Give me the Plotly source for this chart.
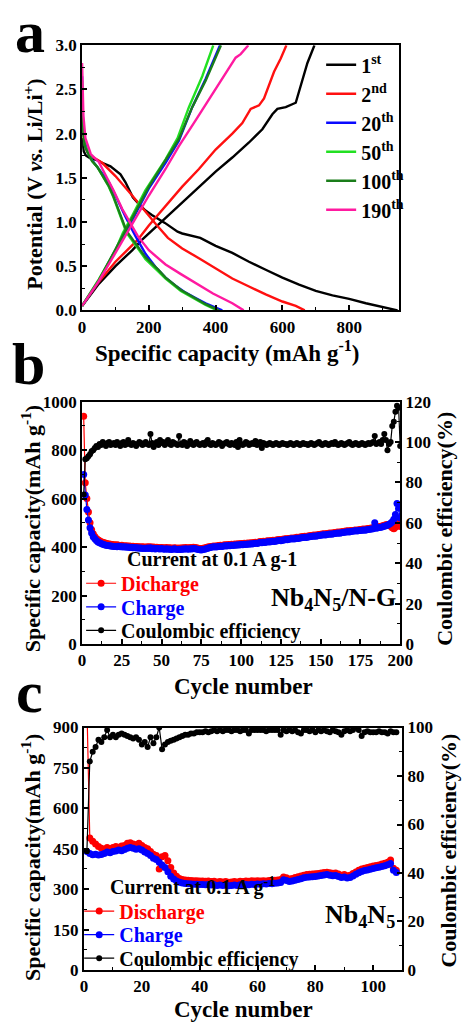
import plotly.graph_objects as go

W, H = 472, 1032
FONT = "Liberation Serif"

# ---------------- Panel a : charge/discharge profiles ----------------
cycle_labels = ["1<sup>st</sup>", "2<sup>nd</sup>", "20<sup>th</sup>", "50<sup>th</sup>", "100<sup>th</sup>", "190<sup>th</sup>"]
cycle_colors = ["#000000", "#ff1010", "#0a0aff", "#22e022", "#1a7d1a", "#ff1aa0"]

dis1_cap = [0, 5, 12, 25, 45, 60, 85, 103, 115, 130, 152, 171, 190, 209, 248, 286, 300, 354, 400, 450, 500, 550, 600, 650, 700, 750, 800, 850, 900, 945]
dis1_v = [1.95, 1.8, 1.75, 1.72, 1.7, 1.67, 1.63, 1.58, 1.54, 1.45, 1.28, 1.2, 1.13, 1.08, 0.99, 0.89, 0.87, 0.82, 0.73, 0.65, 0.55, 0.46, 0.37, 0.29, 0.22, 0.17, 0.13, 0.08, 0.04, 0.0]
chg1_cap = [0, 20, 50, 100, 150, 180, 200, 250, 300, 350, 400, 450, 500, 540, 570, 585, 610, 640, 655, 675, 696]
chg1_v = [0.05, 0.15, 0.3, 0.5, 0.68, 0.8, 0.87, 1.04, 1.22, 1.4, 1.57, 1.73, 1.9, 2.05, 2.22, 2.28, 2.3, 2.35, 2.55, 2.8, 3.0]

dis2_cap = [0, 5, 15, 30, 60, 74, 100, 150, 190, 220, 257, 300, 350, 400, 450, 500, 550, 600, 640, 667]
dis2_v = [2.3, 1.95, 1.8, 1.74, 1.67, 1.62, 1.52, 1.3, 1.11, 0.98, 0.82, 0.7, 0.59, 0.47, 0.36, 0.27, 0.18, 0.1, 0.05, 0.0]
chg2_cap = [0, 50, 100, 167, 200, 250, 300, 350, 400, 450, 480, 505, 530, 545, 575, 595, 612]
chg2_v = [0.05, 0.32, 0.55, 0.8, 0.96, 1.18, 1.4, 1.6, 1.82, 2.0, 2.12, 2.28, 2.32, 2.4, 2.7, 2.85, 3.0]

dis20_cap = [0, 3, 8, 16, 30, 46, 80, 100, 130, 160, 190, 220, 250, 280, 310, 340, 370, 400, 420]
dis20_v = [2.65, 2.1, 1.9, 1.8, 1.7, 1.62, 1.45, 1.3, 1.06, 0.84, 0.64, 0.49, 0.37, 0.28, 0.2, 0.14, 0.08, 0.03, 0.0]
chg20_cap = [0, 50, 100, 150, 200, 250, 290, 330, 370, 413]
chg20_v = [0.05, 0.33, 0.68, 1.02, 1.38, 1.67, 1.92, 2.3, 2.62, 3.0]

dis50_cap = [0, 3, 8, 16, 30, 46, 80, 94, 133, 160, 190, 228, 250, 296, 310, 340, 370, 405]
dis50_v = [2.6, 2.05, 1.87, 1.8, 1.69, 1.62, 1.4, 1.28, 0.88, 0.74, 0.58, 0.44, 0.36, 0.22, 0.19, 0.12, 0.06, 0.0]
chg50_cap = [0, 50, 100, 122, 150, 190, 250, 286, 320, 360, 393]
chg50_v = [0.05, 0.35, 0.68, 0.875, 1.07, 1.36, 1.71, 1.95, 2.3, 2.65, 3.0]

dis100_cap = [0, 3, 8, 16, 30, 46, 80, 94, 133, 160, 190, 228, 250, 296, 310, 340, 370, 410]
dis100_v = [2.5, 2.02, 1.86, 1.79, 1.69, 1.62, 1.41, 1.29, 0.9, 0.76, 0.6, 0.46, 0.37, 0.23, 0.2, 0.13, 0.07, 0.0]
chg100_cap = [0, 50, 100, 150, 200, 250, 290, 330, 370, 416]
chg100_v = [0.05, 0.34, 0.69, 1.04, 1.4, 1.7, 1.94, 2.3, 2.6, 3.0]

dis190_cap = [0, 4, 10, 26, 50, 94, 120, 152, 167, 200, 250, 296, 350, 392, 450, 484]
dis190_v = [2.8, 2.2, 1.95, 1.77, 1.68, 1.36, 1.15, 0.95, 0.84, 0.68, 0.52, 0.41, 0.29, 0.19, 0.08, 0.0]
chg190_cap = [0, 50, 100, 150, 200, 250, 290, 340, 383, 420, 460, 475, 498]
chg190_v = [0.05, 0.33, 0.65, 0.98, 1.3, 1.6, 1.86, 2.15, 2.4, 2.62, 2.86, 2.9, 3.0]

profiles = [
    (dis1_cap, dis1_v, chg1_cap, chg1_v),
    (dis2_cap, dis2_v, chg2_cap, chg2_v),
    (dis20_cap, dis20_v, chg20_cap, chg20_v),
    (dis50_cap, dis50_v, chg50_cap, chg50_v),
    (dis100_cap, dis100_v, chg100_cap, chg100_v),
    (dis190_cap, dis190_v, chg190_cap, chg190_v),
]

# ---------------- Panel b : Nb4N5/N-G cycling ----------------
disch_b = [
    940, 665, 600, 545, 500, 472, 455, 444, 436, 430,
    426, 422, 420, 418, 416, 414, 413, 412, 411, 410,
    409, 410, 408, 407, 408, 406, 405, 406, 404, 405,
    403, 404, 402, 403, 401, 402, 400, 401, 400, 399,
    401, 400, 402, 399, 400, 398, 399, 398, 397, 398,
    397, 396, 398, 396, 397, 396, 395, 397, 396, 395,
    396, 395, 397, 396, 398, 397, 396, 398, 397, 399,
    398, 397, 395, 394, 393, 395, 396, 398, 400, 401,
    403, 404, 405, 404, 406, 407, 408, 407, 409, 410,
    409, 411, 410, 412, 411, 413, 412, 414, 413, 415,
    414, 416, 415, 417, 416, 418, 417, 419, 420, 419,
    421, 423, 422, 424, 423, 425, 426, 425, 427, 428,
    427, 429, 430, 431, 430, 432, 433, 435, 434, 436,
    437, 438, 437, 439, 441, 440, 442, 443, 444, 445,
    444, 446, 447, 448, 449, 450, 449, 451, 452, 453,
    454, 455, 454, 456, 457, 458, 457, 459, 460, 461,
    462, 461, 463, 464, 465, 466, 467, 466, 468, 469,
    470, 471, 470, 472, 473, 474, 475, 474, 476, 477,
    478, 479, 480, 481, 482, 484, 485, 486, 488, 490,
    492, 493, 490, 486, 480, 476, 482, 490, 498, 485,
]
charge_b = [
    700, 615, 555, 512, 480, 458, 443, 434, 427, 421,
    418, 415, 412, 410, 408, 407, 406, 405, 404, 403,
    403, 402, 404, 401, 402, 400, 401, 399, 400, 398,
    399, 397, 398, 396, 397, 395, 396, 394, 395, 394,
    396, 394, 397, 393, 395, 392, 394, 393, 392, 394,
    392, 391, 393, 391, 392, 390, 391, 393, 391, 390,
    391, 390, 392, 391, 393, 392, 391, 393, 392, 394,
    393, 392, 390, 389, 388, 390, 391, 393, 395, 397,
    399, 400, 401, 400, 402, 403, 404, 403, 405, 406,
    405, 407, 406, 408, 407, 409, 408, 410, 409, 411,
    410, 412, 411, 413, 412, 414, 413, 415, 416, 415,
    417, 419, 418, 420, 419, 421, 422, 421, 423, 424,
    423, 425, 426, 427, 426, 428, 429, 431, 430, 432,
    433, 434, 433, 435, 437, 436, 438, 439, 440, 441,
    440, 442, 443, 444, 445, 446, 445, 447, 448, 449,
    450, 451, 450, 452, 453, 454, 453, 455, 456, 457,
    458, 457, 459, 460, 461, 462, 463, 462, 464, 465,
    466, 467, 466, 468, 469, 470, 471, 470, 472, 473,
    474, 475, 476, 500, 478, 480, 481, 482, 484, 486,
    488, 490, 494, 498, 505, 515, 535, 580, 560, 520,
]
ce_b = [
    74, 91.5, 92, 93, 94, 95.5, 96, 97, 98, 97.5,
    99, 98.5, 100, 99, 98, 99.5, 100, 98.5, 99, 99.5,
    98.5, 100, 99, 98, 99.5, 100, 98.5, 99, 101, 99,
    98.5, 99.5, 99, 98, 99, 100, 99.5, 98.5, 99, 100,
    99, 98.5, 104, 99.5, 97.5, 99, 100, 98.5, 101, 99.5,
    100, 98.5, 99.5, 101, 99, 98.5, 100, 99.5, 99, 98.5,
    103, 99, 98.5, 100, 99.5, 98, 99, 100.5, 99, 98.5,
    99.5, 100, 99, 98.5, 99, 99.5, 98.5, 100, 101, 99,
    98.5, 99.5, 99, 98.5, 99, 100, 99.5, 98, 99, 99.5,
    100, 99, 98.5, 99.5, 99, 98.5, 100, 97.5, 101, 99,
    98.5, 99, 100, 99.5, 98.5, 99, 99.5, 99, 100.5, 98.5,
    99, 100, 97, 99.5, 99, 98.5, 99, 99.5, 99, 98.5,
    99, 99.5, 99, 98.5, 99, 99.5, 99, 99, 98.5, 99,
    99.5, 99, 98.5, 99, 99.5, 99, 98.5, 99, 99.5, 99,
    99, 98.5, 99, 99.5, 99, 98.5, 99, 99.5, 100, 99,
    98.5, 99, 99.5, 99, 98.5, 99, 99.5, 99, 100, 99,
    98.5, 99, 99.5, 99, 98.5, 99, 99.5, 100, 99, 98.5,
    99, 99.5, 99, 98.5, 99, 99.5, 99, 98.5, 99, 99.5,
    99, 99.5, 100, 103, 99, 99.5, 100, 99, 101, 104,
    101, 96, 99, 100, 108, 110, 115, 118, 117, 98,
]
cycles_b = list(range(1, len(disch_b) + 1))

# ---------------- Panel c : Nb4N5 cycling ----------------
disch_c = [
    980, 490, 478, 468, 458, 452, 448, 455, 450, 455,
    458, 456, 460, 462, 470, 472, 468, 465, 470, 462,
    455, 450, 440, 430, 425, 375, 420, 425, 405, 380,
    360, 348, 340, 336, 334, 333, 332, 331, 331, 330,
    330, 329, 330, 328, 329, 327, 328, 327, 328, 326,
    327, 328, 327, 329, 328, 330, 329, 331, 330, 331,
    330, 331, 330, 332, 331, 333, 334, 336, 345, 342,
    338, 340, 343, 346, 349, 352, 354, 355, 356, 357,
    358, 360, 362, 363, 361, 359, 360, 356, 352, 354,
    350, 352, 358, 364, 370, 375, 378, 380, 383, 386,
    388, 390, 393, 396, 400, 408, 378, 370,
]
charge_c = [
    440, 432, 428, 430, 427, 429, 432, 438, 435, 440,
    442, 445, 443, 447, 452, 455, 452, 448, 450, 445,
    438, 432, 425, 415, 410, 400, 390, 380, 365, 348,
    338, 330, 326, 323, 321, 320, 319, 318, 318, 317,
    317, 316, 317, 315, 316, 314, 315, 314, 315, 313,
    314, 315, 314, 316, 315, 317, 316, 318, 317, 319,
    318, 320, 319, 321, 320, 322, 323, 325, 335, 332,
    328, 330, 333, 336, 339, 342, 344, 345, 346, 347,
    349, 351, 353, 354, 352, 350, 351, 347, 343, 345,
    341, 343, 349, 355, 361, 366, 369, 371, 374, 377,
    379, 381, 384, 387, 391, 395, 370, 362,
]
ce_c = [
    49, 86, 90, 92, 95, 94, 96, 99, 96, 97,
    96, 97, 97.5, 97, 96.5, 96, 95.5, 96, 95, 93,
    94, 92, 96, 93.5, 96, 100, 91, 93, 94, 94.5,
    95, 95.5, 96, 96.5, 97, 97, 97.5, 97.5, 98, 98,
    98, 98.5, 98, 98.5, 99, 98.5, 99, 98.5, 99, 99,
    98.5, 99, 99, 98.5, 99, 99, 97.5, 99, 99, 99,
    99, 99, 98.5, 99, 99, 99, 99, 97, 99, 98.5,
    99, 98.5, 99, 98, 97.5, 99, 99, 98.5, 99, 98,
    99, 98.5, 99, 98.5, 98, 99, 98.5, 98, 97, 98.5,
    99, 98.5, 99, 100, 99, 96.5, 98, 98.5, 98, 98,
    98, 98.5, 98, 98, 97.5, 98.5, 98, 98,
]
cycles_c = list(range(1, len(disch_c) + 1))

fig = go.Figure()

# panel a traces
for lab, col, (dc, dv, cc, cv) in zip(cycle_labels, cycle_colors, profiles):
    fig.add_trace(go.Scatter(
        x=dc + [None] + cc, y=dv + [None] + cv, mode="lines", name=lab,
        line=dict(color=col, width=2.4), xaxis="x", yaxis="y", legend="legend",
    ))


def cyc_trace(x, y, name, color, xa, ya, leg, size=7):
    return go.Scatter(x=x, y=y, mode="lines+markers", name=name,
                      line=dict(color=color, width=1.2),
                      marker=dict(color=color, size=size),
                      xaxis=xa, yaxis=ya, legend=leg)


# panel b traces
fig.add_trace(cyc_trace(cycles_b, disch_b, '<span style="color:#ff0000">Dicharge</span>', "#ff0000", "x2", "y2", "legend2"))
fig.add_trace(cyc_trace(cycles_b, charge_b, '<span style="color:#0000ff">Charge</span>', "#0000ff", "x2", "y2", "legend3"))
fig.add_trace(cyc_trace(cycles_b, ce_b, "Coulombic efficiency", "#000000", "x2", "y3", "legend4", size=6))

# panel c traces
fig.add_trace(cyc_trace(cycles_c, disch_c, '<span style="color:#ff0000">Discharge</span>', "#ff0000", "x3", "y4", "legend5"))
fig.add_trace(cyc_trace(cycles_c, charge_c, '<span style="color:#0000ff">Charge</span>', "#0000ff", "x3", "y4", "legend6"))
fig.add_trace(cyc_trace(cycles_c, ce_c, "Coulombic efficiency", "#000000", "x3", "y5", "legend7", size=6))


def px_x(p):
    return p / W


def px_y(p):
    return 1 - p / H


tickfont = dict(family=FONT, size=17, color="black", weight="bold")
common = dict(showline=True, linecolor="black", linewidth=2, ticks="inside",
              ticklen=5, tickwidth=1.5, tickcolor="black", showgrid=False,
              zeroline=False, tickfont=tickfont)
MINOR = dict(ticks="inside", ticklen=3, tickcolor="black", tickwidth=1.2)


def leg(x, y, size=20):
    return dict(x=px_x(x), y=px_y(y), xanchor="left", yanchor="middle",
                bgcolor="rgba(0,0,0,0)", borderwidth=0, itemwidth=30,
                font=dict(family=FONT, size=size, color="black", weight="bold"))


fig.update_layout(
    width=W, height=H, margin=dict(l=0, r=0, t=0, b=0),
    paper_bgcolor="white", plot_bgcolor="white",
    font=dict(family=FONT, size=15, color="black", weight="bold"),
    xaxis=dict(domain=[px_x(81), px_x(410)], range=[0, 950], anchor="y",
               dtick=200, mirror=True, minor=dict(dtick=100, **MINOR), **common),
    yaxis=dict(domain=[px_y(307), px_y(37)], range=[0, 3], anchor="x",
               dtick=0.5, tickformat=".1f", mirror=True,
               minor=dict(dtick=0.25, **MINOR), **common),
    xaxis2=dict(domain=[px_x(81), px_x(411)], range=[0, 200], anchor="y2",
                dtick=25, mirror=True, minor=dict(dtick=12.5, **MINOR), **common),
    yaxis2=dict(domain=[px_y(647), px_y(400)], range=[0, 1000], anchor="x2",
                dtick=200, minor=dict(dtick=100, **MINOR), **common),
    yaxis3=dict(range=[0, 120], anchor="x2", overlaying="y2", side="right",
                dtick=20, minor=dict(dtick=10, **MINOR), **common),
    xaxis3=dict(domain=[px_x(83), px_x(413)], range=[0, 110], anchor="y4",
                dtick=20, mirror=True, minor=dict(dtick=10, **MINOR), **common),
    yaxis4=dict(domain=[px_y(979), px_y(732)], range=[0, 900], anchor="x3",
                dtick=150, minor=dict(dtick=75, **MINOR), **common),
    yaxis5=dict(range=[0, 100], anchor="x3", overlaying="y4", side="right",
                dtick=20, minor=dict(dtick=10, **MINOR), **common),
    legend=dict(x=px_x(329), y=px_y(37), xanchor="left", yanchor="top",
                bgcolor="rgba(0,0,0,0)", borderwidth=0, itemwidth=30,
                font=dict(family=FONT, size=20, color="black", weight="bold")),
    legend2=leg(80, 585),
    legend3=leg(80, 609),
    legend4=leg(80, 633),
    legend5=leg(78, 919),
    legend6=leg(78, 943),
    legend7=leg(78, 967),
    showlegend=True,
)

TITLE_X = dict(family=FONT, size=23, color="black", weight="bold")
TITLE_Y = dict(family=FONT, size=22, color="black", weight="bold")
ann = []


def add_text(text, x, y, font, angle=0):
    ann.append(dict(text=text, xref="paper", yref="paper", x=px_x(x), y=px_y(y),
                    xanchor="center", yanchor="middle", showarrow=False,
                    textangle=angle, font=font))


LETTER = dict(family=FONT, size=60, color="black", weight="bold")
add_text("a", 27, 23, LETTER)
add_text("b", 25, 362, LETTER)
add_text("c", 26, 696, LETTER)

add_text("Specific capacity (mAh g<sup>-1</sup>)", 231, 349, TITLE_X)
add_text("Potential (V <i>vs.</i> Li/Li<sup>+</sup>)", 30, 178, TITLE_Y, -90)
add_text("Specific capacity(mAh g<sup>-1</sup>)", 28, 529, TITLE_Y, -90)
add_text("Coulombic efficiency(%)", 457, 530, TITLE_Y, -90)
add_text("Cycle number", 248, 690, TITLE_X)
add_text("Specific capacity(mAh g<sup>-1</sup>)", 28, 864, TITLE_Y, -90)
add_text("Coulombic efficiency(%)", 461, 857, TITLE_Y, -90)
add_text("Cycle number", 248, 1019, TITLE_X)

NOTE = dict(family=FONT, size=20, color="black", weight="bold")
add_text("Current at 0.1 A g-1", 216, 561, NOTE)
add_text("Current at 0.1 A g<sup>-1</sup>", 196, 894, NOTE)
SAMPLE = dict(family=FONT, size=26, color="black", weight="bold")
add_text("Nb<sub>4</sub>N<sub>5</sub>/N-G", 342, 601, SAMPLE)
add_text("Nb<sub>4</sub>N<sub>5</sub>", 369, 924, SAMPLE)

fig.update_layout(annotations=ann)
fig.write_html("out.html")
